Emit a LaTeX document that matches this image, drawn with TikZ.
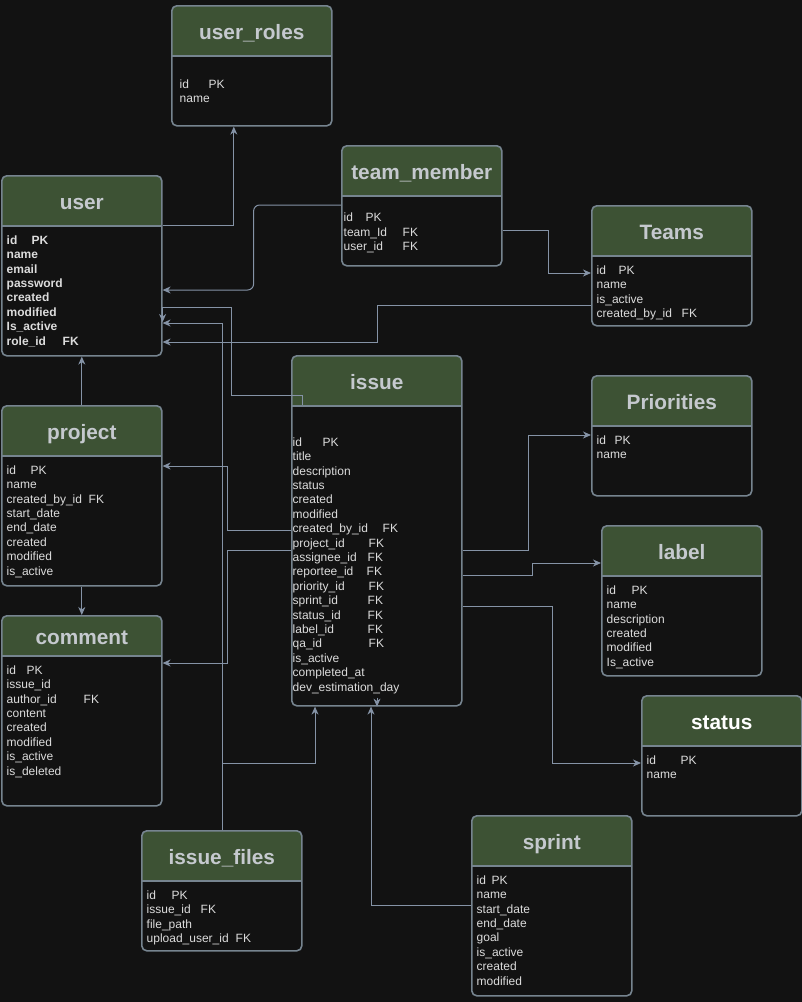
\documentclass[tikz,border=0pt]{standalone}
\usepackage{fontspec}
\setmainfont{Liberation Sans}
\usetikzlibrary{positioning}
\usetikzlibrary{arrows.meta}
\definecolor{bgcol}{HTML}{121212}
\definecolor{headcol}{HTML}{3D5234}
\definecolor{bordcol}{HTML}{76848F}
\definecolor{linkcol}{HTML}{8593A6}
\definecolor{ttlcol}{HTML}{C5C9CE}
\definecolor{txtcol}{HTML}{DCDCDC}
\newcommand{\fld}[2]{\makebox[#1pt][l]{#2}}

\begin{document}
\begin{tikzpicture}[
    x=1pt, y=-1pt,
    font=\fontsize{12}{14.4}\selectfont
]
\tikzset{
    tbl/.style = {draw=bordcol, line width=1.6pt, fill=bgcol, rounded corners=5pt,
        anchor=north west, inner sep=0pt, minimum width=160pt,
        path picture={
            \fill[headcol, sharp corners] (path picture bounding box.north west)
                rectangle ([yshift=-#1]path picture bounding box.north east);
            \draw[bordcol, line width=1.6pt, sharp corners] ([yshift=-#1]path picture bounding box.north west)
                -- ([yshift=-#1]path picture bounding box.north east);
        }},
    tbl/.default = 50pt,
    ttl/.style = {anchor=base, inner sep=0pt, text=ttlcol, font=\fontsize{20.8}{25}\selectfont\bfseries},
    fields/.style = {inner sep=0pt, align=left, text=txtcol},
    link/.style = {-{Stealth[length=8pt,width=7pt,inset=2.5pt]}, draw=linkcol, line width=1pt}
}
\fill[bgcol] (0,0) rectangle (802,1002);
\useasboundingbox (0,0) rectangle (802,1002);

% tables
\node[tbl, minimum height=120pt] (roles) at (171,5) {};
\node[ttl] (roles-t) at ([yshift=-34pt]roles.north) {user\_roles};
\node[fields, below right=74.4pt and 8.5pt of roles.north west] (roles-f) {\fld{29}{id}PK\\name};

\node[tbl, minimum height=180pt] (user) at (1,175) {};
\node[ttl] (user-t) at ([yshift=-34pt]user.north) {user};
\node[fields, font=\fontsize{12}{14.4}\selectfont\bfseries, below right=60.4pt and 5.5pt of user.north west] (user-f)
    {\fld{25}{id}PK\\name\\email\\password\\created\\modified\\Is\_active\\\fld{56}{role\_id}FK};

\node[tbl, minimum height=120pt] (member) at (341,145) {};
\node[ttl] (member-t) at ([yshift=-34pt]member.north) {team\_member};
\node[fields, below right=67.9pt and 2.5pt of member.north west] (member-f)
    {\fld{22}{id}PK\\\fld{59}{team\_Id}FK\\\fld{59}{user\_id}FK};

\node[tbl, minimum height=120pt] (teams) at (591,205) {};
\node[ttl] (teams-t) at ([yshift=-34pt]teams.north) {Teams};
\node[fields, below right=60.4pt and 5.5pt of teams.north west] (teams-f)
    {\fld{22}{id}PK\\name\\is\_active\\\fld{85}{created\_by\_id}FK};

\node[tbl, minimum width=170pt, minimum height=350pt] (issue) at (291,355) {};
\node[ttl] (issue-t) at ([yshift=-34pt]issue.north) {issue};
\node[fields, below right=82.4pt and 1.5pt of issue.north west] (issue-f)
    {\fld{30}{id}PK\\title\\description\\status\\created\\modified\\\fld{90}{created\_by\_id}FK\\
     \fld{76}{project\_id}FK\\\fld{75}{assignee\_id}FK\\\fld{74}{reportee\_id}FK\\\fld{76}{priority\_id}FK\\
     \fld{75}{sprint\_id}FK\\\fld{75}{status\_id}FK\\\fld{75}{label\_id}FK\\\fld{76}{qa\_id}FK\\
     is\_active\\completed\_at\\dev\_estimation\_day};

\node[tbl, minimum height=120pt] (prio) at (591,375) {};
\node[ttl] (prio-t) at ([yshift=-34pt]prio.north) {Priorities};
\node[fields, below right=60.4pt and 5.5pt of prio.north west] (prio-f) {\fld{18}{id}PK\\name};

\node[tbl, minimum height=180pt] (project) at (1,405) {};
\node[ttl] (project-t) at ([yshift=-34pt]project.north) {project};
\node[fields, below right=60.4pt and 5.5pt of project.north west] (project-f)
    {\fld{24}{id}PK\\name\\\fld{82}{created\_by\_id}FK\\start\_date\\end\_date\\created\\modified\\is\_active};

\node[tbl, minimum height=150pt] (label) at (601,525) {};
\node[ttl] (label-t) at ([yshift=-34pt]label.north) {label};
\node[fields, below right=60.4pt and 5.5pt of label.north west] (label-f)
    {\fld{25}{id}PK\\name\\description\\created\\modified\\Is\_active};

\node[tbl=40pt, minimum height=190pt] (comment) at (1,615) {};
\node[ttl] (comment-t) at ([yshift=-29pt]comment.north) {comment};
\node[fields, below right=50.4pt and 5.5pt of comment.north west] (comment-f)
    {\fld{20}{id}PK\\issue\_id\\\fld{77}{author\_id}FK\\content\\created\\modified\\is\_active\\is\_deleted};

\node[tbl, minimum height=120pt] (status) at (641,695) {};
\node[ttl, text=white] (status-t) at ([yshift=-34pt]status.north) {status};
\node[fields, below right=60.4pt and 5.5pt of status.north west] (status-f) {\fld{34}{id}PK\\name};

\node[tbl, minimum height=120pt] (files) at (141,830) {};
\node[ttl] (files-t) at ([yshift=-34pt]files.north) {issue\_files};
\node[fields, below right=60.4pt and 5.5pt of files.north west] (files-f)
    {\fld{25}{id}PK\\\fld{54}{issue\_id}FK\\file\_path\\\fld{89}{upload\_user\_id}FK};

\node[tbl, minimum height=180pt] (sprint) at (471,815) {};
\node[ttl] (sprint-t) at ([yshift=-34pt]sprint.north) {sprint};
\node[fields, below right=60.4pt and 5.5pt of sprint.north west] (sprint-f)
    {\fld{15}{id}PK\\name\\start\_date\\end\_date\\goal\\is\_active\\created\\modified};

% relations
\draw[link] ([yshift=-50pt]user.north east) -| ([xshift=-18pt]roles.south);
\draw[link, rounded corners=6pt] ([yshift=-60pt]member.north west) -| ([xshift=91pt,yshift=-115pt]user.north east)
    -- ([yshift=-115pt]user.north east);
\draw[link] ([yshift=-85pt]member.north east) -- ++(46,0) |- ([yshift=-68pt]teams.north west);
\draw[link] ([yshift=-100pt]teams.north west) -- ++(-214,0) |- ([yshift=-167pt]user.north east);
\draw[link] ([xshift=11pt,yshift=-50pt]issue.north west) -- ++(0,-10) -- ++(-71,0)
    |- ([yshift=-132pt]user.north east) -- ++(0,15);
\draw[link] ([xshift=1pt]files.north) |- ([yshift=-148pt]user.north east);
\draw[link] ([xshift=1pt]files.north) -- ++(0,-67) -| ([xshift=24pt]issue.south west);
\draw[link] ([yshift=-175pt]issue.north west) -- ++(-64,0) |- ([yshift=-61pt]project.north east);
\draw[link] ([yshift=-195pt]issue.north west) -- ++(-64,0) |- ([yshift=-48pt]comment.north east);
\draw[link] (project.north) -- (user.south);
\draw[link] (project.south) -- (comment.north);
\draw[link] ([yshift=-195pt]issue.north east) -- ++(66,0) |- ([yshift=-60pt]prio.north west);
\draw[link] ([yshift=-220pt]issue.north east) -- ++(70,0) |- ([yshift=-38pt]label.north west);
\draw[link] ([yshift=-251pt]issue.north east) -- ++(90,0) |- ([yshift=-68pt]status.north west);
\draw[link] ([yshift=-90pt]sprint.north west) -| ([xshift=80pt]issue.south west);
\draw[link] ([xshift=86pt,yshift=9pt]issue.south west) -- ([xshift=86pt]issue.south west);
\end{tikzpicture}
\end{document}
